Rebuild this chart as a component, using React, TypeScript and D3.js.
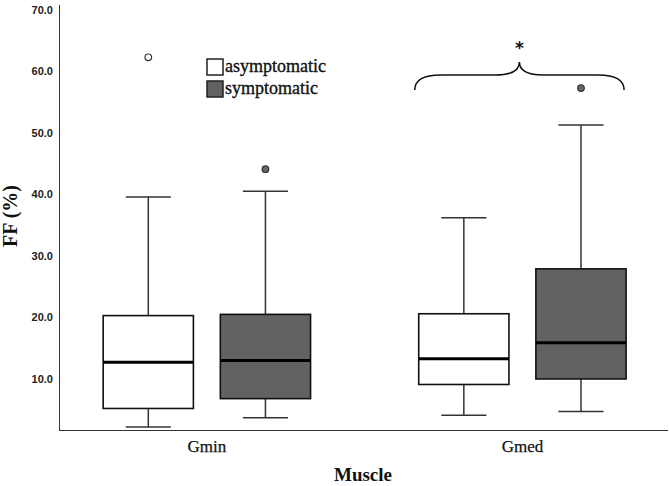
import { useEffect, useRef } from 'react';
import * as d3 from 'd3';

// muscles on the x axis and the two patient groups
const categories = ['Gmin', 'Gmed'];
const groups = ['asymptomatic', 'symptomatic'];

// box statistics per group, one value per muscle (FF %)
const asymLow = [2.2, 4.1];
const asymQ1 = [5.2, 9.1];
const asymMedian = [12.7, 13.3];
const asymQ3 = [20.3, 20.6];
const asymHigh = [39.6, 36.2];
const asymOutliers = [[62.3], []];

const sympLow = [3.7, 4.7];
const sympQ1 = [6.8, 10.0];
const sympMedian = [13.0, 15.9];
const sympQ3 = [20.5, 27.9];
const sympHigh = [40.5, 51.3];
const sympOutliers = [[44.1], [57.3]];

const yTicks = [10, 20, 30, 40, 50, 60, 70];

interface BoxDatum {
  muscle: string;
  group: string;
  low: number;
  q1: number;
  median: number;
  q3: number;
  high: number;
  outliers: number[];
}

export default function App() {
  const svgRef = useRef<SVGSVGElement>(null);

  useEffect(() => {
    if (!svgRef.current) return;
    const width = 669;
    const height = 486;
    const margin = { top: 5, right: 1, bottom: 56, left: 59 };

    d3.select(svgRef.current).selectAll('*').remove();
    const svg = d3.select(svgRef.current).attr('width', width).attr('height', height);

    const boxes: BoxDatum[] = [];
    categories.forEach((m, i) => {
      boxes.push({
        muscle: m, group: groups[0], low: asymLow[i], q1: asymQ1[i], median: asymMedian[i],
        q3: asymQ3[i], high: asymHigh[i], outliers: asymOutliers[i],
      });
      boxes.push({
        muscle: m, group: groups[1], low: sympLow[i], q1: sympQ1[i], median: sympMedian[i],
        q3: sympQ3[i], high: sympHigh[i], outliers: sympOutliers[i],
      });
    });

    const x0 = d3
      .scaleBand()
      .domain(categories)
      .range([margin.left, width - margin.right])
      .paddingInner(0.25)
      .paddingOuter(0.09)
      .align(0.52);

    const x1 = d3
      .scaleBand()
      .domain(groups)
      .range([0, x0.bandwidth()])
      .paddingInner(0.23)
      .paddingOuter(0.125);

    const y = d3
      .scaleLinear()
      .domain([1.7, 70.8])
      .range([height - margin.bottom, margin.top]);

    const fill = d3.scaleOrdinal<string, string>().domain(groups).range(['#ffffff', '#626262']);

    // axes (lines only, no tick marks)
    const axisColor = '#333';
    svg
      .append('line')
      .attr('x1', margin.left + 0.5)
      .attr('x2', margin.left + 0.5)
      .attr('y1', margin.top)
      .attr('y2', height - margin.bottom)
      .attr('stroke', axisColor)
      .attr('stroke-width', 1);
    svg
      .append('line')
      .attr('x1', margin.left)
      .attr('x2', width - margin.right)
      .attr('y1', height - margin.bottom + 0.5)
      .attr('y2', height - margin.bottom + 0.5)
      .attr('stroke', axisColor)
      .attr('stroke-width', 1);

    svg
      .append('g')
      .selectAll('text')
      .data(yTicks)
      .enter()
      .append('text')
      .attr('x', margin.left - 6)
      .attr('y', (d) => y(d))
      .attr('dy', '0.35em')
      .attr('text-anchor', 'end')
      .style('font-family', '"Liberation Sans", Arial, sans-serif')
      .style('font-weight', 'bold')
      .style('font-size', '11px')
      .style('fill', '#222')
      .text((d) => d.toFixed(1));

    svg
      .append('g')
      .selectAll('text')
      .data(categories)
      .enter()
      .append('text')
      .attr('x', (d) => (x0(d) || 0) + x0.bandwidth() / 2)
      .attr('y', 452)
      .attr('text-anchor', 'middle')
      .style('font-family', '"Liberation Serif", "Times New Roman", serif')
      .style('font-size', '17px')
      .style('fill', '#111')
      .style('stroke', '#111')
      .style('stroke-width', '0.25px')
      .text((d) => d);

    svg
      .append('text')
      .attr('x', 363)
      .attr('y', 481)
      .attr('text-anchor', 'middle')
      .style('font-family', '"Liberation Serif", "Times New Roman", serif')
      .style('font-weight', 'bold')
      .style('font-size', '19px')
      .style('fill', '#111')
      .text('Muscle');

    svg
      .append('text')
      .attr('transform', 'translate(17, 216) rotate(-90)')
      .attr('text-anchor', 'middle')
      .style('font-family', '"Liberation Serif", "Times New Roman", serif')
      .style('font-weight', 'bold')
      .style('font-size', '20px')
      .style('fill', '#111')
      .text('FF (%)');

    // boxes
    const cx = (d: BoxDatum) => (x0(d.muscle) || 0) + (x1(d.group) || 0) + x1.bandwidth() / 2;
    const bw = x1.bandwidth();
    const cap = bw / 2;

    const g = svg.append('g').selectAll('g').data(boxes).enter().append('g');

    g.append('line')
      .attr('x1', cx)
      .attr('x2', cx)
      .attr('y1', (d) => y(d.q3))
      .attr('y2', (d) => y(d.high))
      .attr('stroke', axisColor)
      .attr('stroke-width', 1.5);
    g.append('line')
      .attr('x1', cx)
      .attr('x2', cx)
      .attr('y1', (d) => y(d.q1))
      .attr('y2', (d) => y(d.low))
      .attr('stroke', axisColor)
      .attr('stroke-width', 1.5);
    g.append('line')
      .attr('x1', (d) => cx(d) - cap / 2)
      .attr('x2', (d) => cx(d) + cap / 2)
      .attr('y1', (d) => y(d.high))
      .attr('y2', (d) => y(d.high))
      .attr('stroke', axisColor)
      .attr('stroke-width', 1.5);
    g.append('line')
      .attr('x1', (d) => cx(d) - cap / 2)
      .attr('x2', (d) => cx(d) + cap / 2)
      .attr('y1', (d) => y(d.low))
      .attr('y2', (d) => y(d.low))
      .attr('stroke', axisColor)
      .attr('stroke-width', 1.5);

    g.append('rect')
      .attr('x', (d) => cx(d) - bw / 2)
      .attr('y', (d) => y(d.q3))
      .attr('width', bw)
      .attr('height', (d) => y(d.q1) - y(d.q3))
      .attr('fill', (d) => fill(d.group))
      .attr('stroke', '#111')
      .attr('stroke-width', 1.6);

    g.append('line')
      .attr('x1', (d) => cx(d) - bw / 2)
      .attr('x2', (d) => cx(d) + bw / 2)
      .attr('y1', (d) => y(d.median))
      .attr('y2', (d) => y(d.median))
      .attr('stroke', '#000')
      .attr('stroke-width', 3);

    g.selectAll('circle')
      .data((d) => d.outliers.map((v) => ({ v, d })))
      .enter()
      .append('circle')
      .attr('cx', (o) => cx(o.d))
      .attr('cy', (o) => y(o.v))
      .attr('r', 3.3)
      .attr('fill', (o) => (o.d.group === groups[0] ? '#fff' : '#666'))
      .attr('stroke', '#333')
      .attr('stroke-width', 1.2);

    // significance brace over Gmed
    const gx = x0('Gmed') || 0;
    const left = gx + (x1(groups[0]) || 0) - 4;
    const right = gx + (x1(groups[1]) || 0) + bw - 2;
    const mid = (left + right) / 2;
    const yEnd = 90;
    const yBar = 75;
    const yTip = 62;
    const p = d3.path();
    p.moveTo(left, yEnd);
    p.quadraticCurveTo(left, yBar, left + 26, yBar);
    p.lineTo(mid - 24, yBar);
    p.quadraticCurveTo(mid, yBar, mid, yTip);
    p.quadraticCurveTo(mid, yBar, mid + 24, yBar);
    p.lineTo(right - 26, yBar);
    p.quadraticCurveTo(right, yBar, right, yEnd);
    svg
      .append('path')
      .attr('d', p.toString())
      .attr('fill', 'none')
      .attr('stroke', '#111')
      .attr('stroke-width', 1.6);
    svg
      .append('text')
      .attr('x', mid)
      .attr('y', 54)
      .attr('text-anchor', 'middle')
      .style('font-family', '"DejaVu Sans", sans-serif')
      .style('font-weight', 'bold')
      .style('font-size', '17px')
      .style('fill', '#111')
      .text('*');

    // legend
    const legend = svg
      .append('g')
      .selectAll('g')
      .data(groups)
      .enter()
      .append('g')
      .attr('transform', (_, i) => `translate(207, ${59 + i * 22})`);
    legend
      .append('rect')
      .attr('width', 16)
      .attr('height', 16)
      .attr('fill', (d) => fill(d))
      .attr('stroke', '#222')
      .attr('stroke-width', 1.5);
    legend
      .append('text')
      .attr('x', 18)
      .attr('y', 13)
      .style('font-family', '"Liberation Serif", "Times New Roman", serif')
      .style('font-size', '18px')
      .style('fill', '#111')
      .style('stroke', '#111')
      .style('stroke-width', '0.35px')
      .text((d) => d);
  }, []);

  return (
    <div style={{ position: 'absolute', left: 0, top: 0, background: '#fff' }}>
      <svg ref={svgRef} style={{ display: 'block' }} />
    </div>
  );
}
